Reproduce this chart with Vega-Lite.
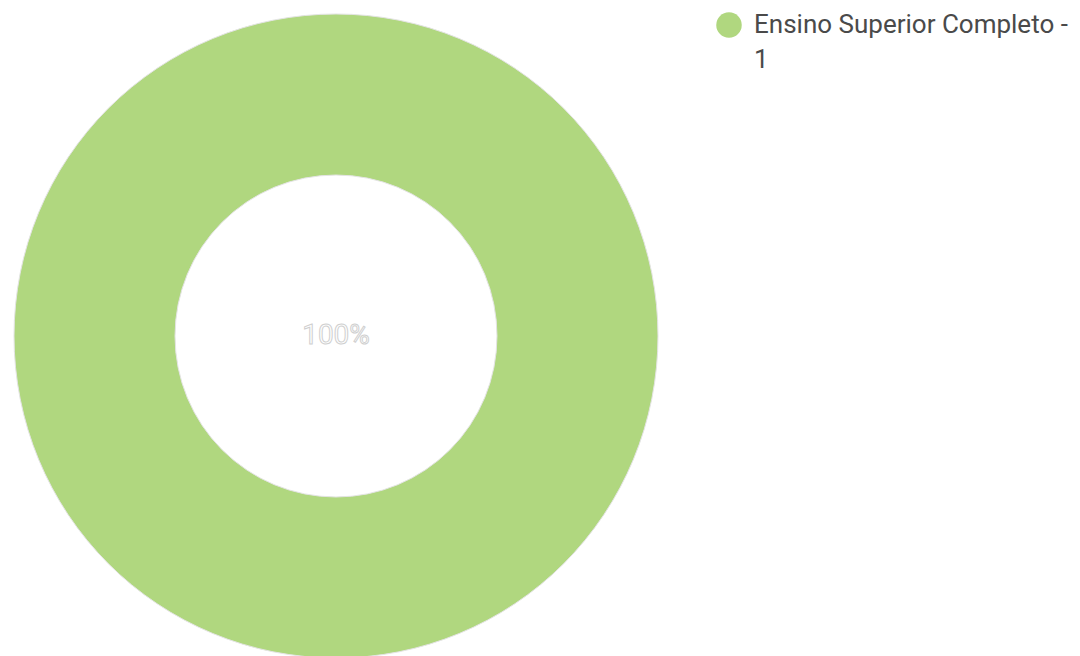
{
  "$schema": "https://vega.github.io/schema/vega-lite/v6.json",
  "width": 672,
  "height": 672,
  "autosize": {"type": "none"},
  "padding": {"left": 0, "top": 0, "right": 408, "bottom": 0},
  "background": "white",
  "config": {"style": {"guide-label": {"lineHeight": 35}}},
  "data": {"values": [{"categoria": "Ensino Superior Completo - 1", "valor": 1, "label": "100%"}]},
  "layer": [
    {
      "mark": {"type": "arc", "outerRadius": 322, "innerRadius": 161, "stroke": "#e4e4e4", "strokeWidth": 1},
      "encoding": {
        "theta": {"field": "valor", "type": "quantitative", "stack": true},
        "color": {
          "field": "categoria",
          "type": "nominal",
          "scale": {"range": ["#b0d77f"]},
          "legend": {
            "orient": "none",
            "legendX": 716,
            "legendY": 12,
            "title": null,
            "symbolType": "circle",
            "symbolSize": 650,
            "symbolStrokeWidth": 0,
            "labelFontSize": 26,
            "labelFont": "Roboto",
            "labelColor": "#4a4a4a",
            "labelLimit": 400,
            "labelOffset": 12,
            "labelBaseline": "middle",
            "labelExpr": "['Ensino Superior Completo -', '1']"
          }
        }
      }
    },
    {
      "mark": {"type": "text", "radius": 0, "fontSize": 28, "font": "Roboto", "fill": "white", "stroke": "#cfcfcf", "strokeWidth": 1},
      "encoding": {
        "theta": {"field": "valor", "type": "quantitative", "stack": true},
        "text": {"field": "label"}
      }
    }
  ]
}
